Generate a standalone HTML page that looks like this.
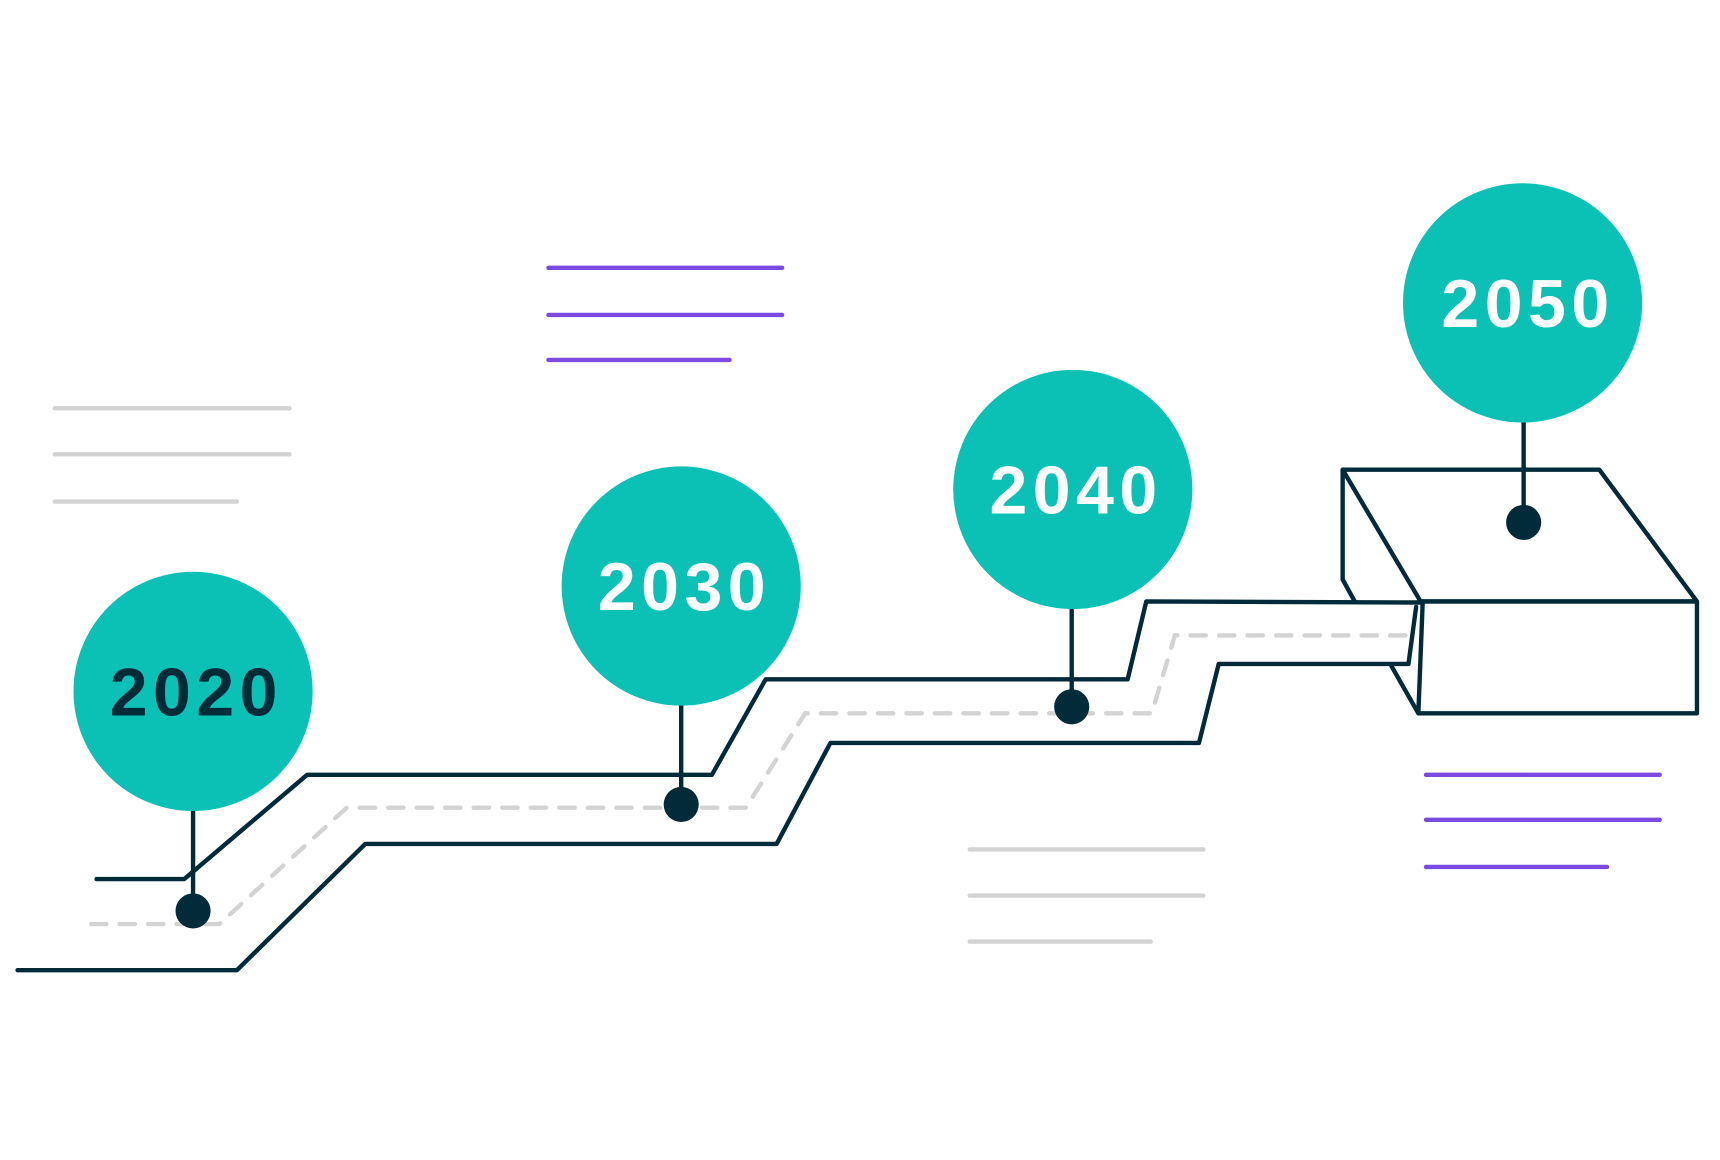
<!DOCTYPE html>
<html><head><meta charset="utf-8"><style>
html,body{margin:0;padding:0;background:#fff;}
svg{display:block}
text{font-family:"Liberation Sans",sans-serif;font-weight:bold;font-size:62px;letter-spacing:5px}
</style></head><body>
<svg width="1720" height="1160" viewBox="0 0 1568 1057" preserveAspectRatio="none" xmlns="http://www.w3.org/2000/svg">
<rect width="1568" height="1057" fill="#fff"/>
<g stroke-linecap="round" stroke-width="4" fill="none">
<g stroke="#7b4ae2">
<line x1="500" y1="244" x2="713" y2="244"/><line x1="500" y1="287" x2="713" y2="287"/><line x1="500" y1="328" x2="665" y2="328"/>
<line x1="1300" y1="706" x2="1513" y2="706"/><line x1="1300" y1="747" x2="1513" y2="747"/><line x1="1300" y1="790" x2="1465" y2="790"/>
</g>
<g stroke="#d3d3d3">
<line x1="50" y1="372" x2="264" y2="372"/><line x1="50" y1="414" x2="264" y2="414"/><line x1="50" y1="457" x2="216" y2="457"/>
<line x1="884" y1="774" x2="1097" y2="774"/><line x1="884" y1="816" x2="1097" y2="816"/><line x1="884" y1="858" x2="1049" y2="858"/>
<polyline points="83,842 200,842 316,736 680,736 734,650 1050,650 1071,579 1290,579" stroke-dasharray="14 12"/>
</g>
<g stroke="#022b3a" stroke-linejoin="round">
<polyline points="88,801 168,801 280,706 649,706 698,619 1028,619 1045,548 1295,549"/>
<polyline points="16,884 216,884 333,769 708,769 757,677 1093,677 1111,605 1284,605 1291,553"/>
<polygon points="1224,428 1458,428 1547,548 1295,548"/>
<polyline points="1224,428 1224,528 1235,548"/>
<polygon points="1297,548 1547,548 1547,650 1293,650"/>
<line x1="1268" y1="606" x2="1293" y2="650"/>
<line x1="176" y1="739" x2="176" y2="830"/>
<line x1="621" y1="639" x2="621" y2="733"/>
<line x1="977" y1="550" x2="977" y2="644"/>
<line x1="1389" y1="380" x2="1389" y2="476"/>
</g>
</g>
<g fill="#0bc1b6">
<circle cx="176" cy="630" r="109"/><circle cx="621" cy="534" r="109"/><circle cx="978" cy="446" r="109"/><circle cx="1388" cy="276" r="109"/>
</g>
<g fill="#022b3a">
<circle cx="176" cy="830" r="16"/><circle cx="621" cy="733" r="16"/><circle cx="977" cy="644" r="16"/><circle cx="1389" cy="476" r="16"/>
</g>
<text x="179" y="652" text-anchor="middle" fill="#022b3a">2020</text>
<text x="624" y="556" text-anchor="middle" fill="#fff">2030</text>
<text x="981" y="468" text-anchor="middle" fill="#fff">2040</text>
<text x="1393" y="298" text-anchor="middle" fill="#fff">2050</text>
</svg>
</body></html>
